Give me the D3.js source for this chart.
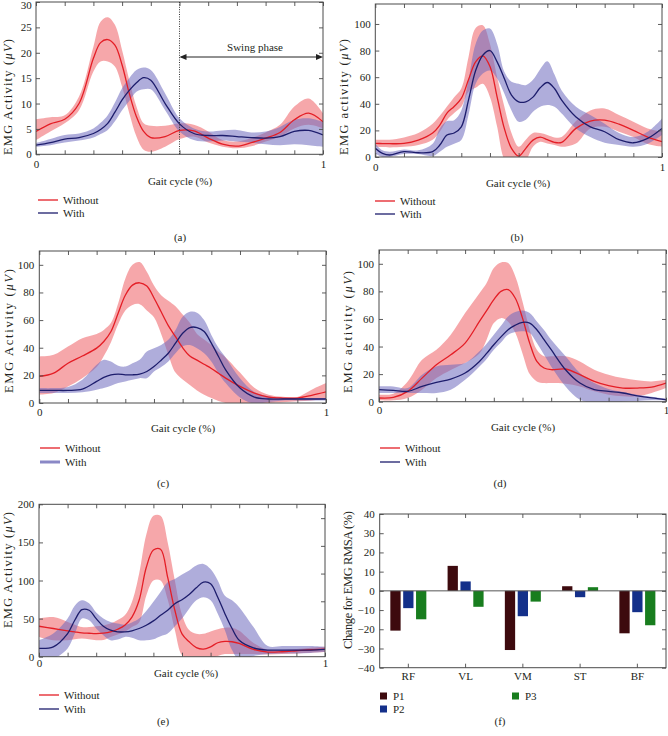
<!DOCTYPE html>
<html><head><meta charset="utf-8">
<script src="https://cdn.jsdelivr.net/npm/d3@7"></script>
<style>
body{margin:0;background:#fff;}
svg text{font-family:"Liberation Serif","Times New Roman",serif;font-size:11px;fill:#231f20;}
svg text.ylab{font-size:12.5px;}
</style></head><body>
<svg id="c" width="668" height="736"></svg>
<script>
// ---------------- DATA ----------------
const gaitTicks = [0,0.1,0.2,0.3,0.4,0.5,0.6,0.7,0.8,0.9,1];
const legendLabels = ["Without","With"];

// Panel (a)
const aGait = [0,0.05,0.1,0.15,0.2,0.225,0.25,0.275,0.3,0.325,0.35,0.375,0.4,0.45,0.5,0.55,0.6,0.65,0.7,0.75,0.8,0.85,0.9,0.95,1];
const aWithoutMean = [4.5,6.0,6.9,10,18.9,22,22.6,21.5,17.6,12,7.4,4.5,3.3,3.5,4.7,4.6,3.2,2.0,1.6,2.3,3.2,4.3,6.8,8.1,6.4];
const aWithoutHigh = [6.9,7.3,7.7,11.4,21.2,26.1,27,25.5,20.5,14.6,9.4,6.1,5.6,5.6,6.1,5.8,4.5,2.8,2.5,3.2,4.3,5.8,9.4,11,8.1];
const aWithoutLow  = [2.8,4.5,6.1,8.7,16.3,18.3,18.3,17.3,13.3,8.1,3.5,0.9,0.5,1.5,3.0,3.5,2.3,1.5,1.2,1.6,2.5,3.5,5.1,5.8,5.1];
const aWithMean = [1.8,2.3,3.0,3.3,4.1,4.9,6.1,8.3,10.7,12.6,14.1,15.1,14.6,10,6.0,4.1,3.7,3.7,3.5,3.3,3.2,3.5,4.5,4.7,3.8];
const aWithHigh = [2.2,3.0,3.8,4.1,5.1,6.2,7.7,10.2,13,15,16.6,17.1,16.6,12,7.1,5.1,4.5,4.7,4.8,4.3,4.5,5.4,6.8,7.1,6.4];
const aWithLow  = [1.5,1.8,2.3,2.7,3.3,4.0,4.8,6.5,8.7,10.5,12.3,12.8,12.8,8.7,4.5,2.8,2.5,2.7,2.5,2.3,2.0,1.8,2.0,1.8,1.5];
const aYTicks = [0,5,10,15,20,25,30];

// Panel (b)
const bGait = [0,0.025,0.05,0.1,0.15,0.2,0.225,0.25,0.275,0.3,0.325,0.35,0.375,0.4,0.425,0.45,0.475,0.5,0.525,0.55,0.575,0.6,0.625,0.65,0.7,0.75,0.8,0.85,0.9,0.95,1];
const bWithoutMean = [10.2,10.1,10,10.2,12.7,18,24,33,38,44,58,71.5,76,68,45,21.5,6.5,0.7,6.5,12.7,15,13,11,11,21.5,27,27.7,24.7,20,15,11.5];
const bWithoutHigh = [13,13,13,14.7,18,25,31,38,45,51.5,75,97,99,85,60,38,18,7.7,13,18,18,16.5,14.7,15,27,35,36.5,31.5,26.5,21.5,19];
const bWithoutLow  = [7.7,7.5,7.2,7.7,9,13,19,27.7,33,37.7,49,52,55,45,22.7,-2,-8,-8,-3,7.7,11.5,10.2,9,7.7,10.2,21.5,22.7,19,15,9.7,7.7];
const bWithMean = [6.5,2.7,1.5,4,3.2,4,9,16.5,18,22.7,42.7,65,76.5,80,71.5,59,46.5,41.5,41.5,45,52,56,51.5,42.7,30,22.7,19,13,10.7,14,21.5];
const bWithHigh = [10,5,4,5.7,5,10,21.5,27,27.7,35,58,85,95,96.5,85,64,56.5,55,54,58,66,72,62,50,37.7,31.5,25,18,15,19,29];
const bWithLow  = [2.7,0,0,2.2,2.2,0.7,4,7.7,10,12.7,31.5,55,62.7,65,59,47.7,35,26.5,28,34,37.7,39,37.7,32.7,21.5,15,10.7,9,7.7,10,16.5];
const bYTicks = [0,20,40,60,80,100];

// Panel (c)
const cGait = [0,0.05,0.1,0.15,0.2,0.225,0.25,0.275,0.3,0.325,0.35,0.375,0.4,0.425,0.45,0.475,0.5,0.525,0.55,0.575,0.6,0.625,0.65,0.7,0.75,0.8,0.85,0.9,0.95,1];
const cWithoutMean = [19.2,21.6,28.8,34,39.7,44.5,51.7,65,78,85.3,87,84.6,76,66,56,48,40,34,31,28,25,21.5,18,12,7.2,4.3,3.6,3.6,5.5,8];
const cWithoutHigh = [33.7,34.9,40.9,46.9,50,52.9,58,72,90,100,102,95,85,78,74,70,64,58,50,46,42,37,33,22,11,6,4.5,4.3,9.6,14.4];
const cWithoutLow  = [6,7.2,12,18,26,34,44,57,67,71,71.5,67,62,50,35,22,17,13,9,6,3.6,1.5,0,-2,-2,0,0.5,1.2,1.9,2.9];
const cWithMean = [9.1,9.1,9.1,10,15.6,18.5,20.4,20.9,20.4,20.4,20.9,22.8,26.4,31,36,43.3,50.5,54.6,54.6,51.7,43.3,33.7,24,10.8,4.3,2.9,2.9,2.9,2.9,2.9];
const cWithHigh = [10.8,10.8,11.5,16.8,27.6,31.3,30,27,26.4,28.8,31.3,37.3,39.7,42,45.7,52.9,62.5,66,65.4,60,49.3,40,33,18,8,4.8,3.6,3.6,3.6,3.6];
const cWithLow  = [7.2,7.2,7.2,7.7,9.6,10.8,12.5,14.4,15.6,16.8,18,18,22.8,26,30,36,41,42,39.7,36,30,21.6,14.4,4,-0.5,0.8,1.9,1.9,1.9,1.9];
const cYTicks = [0,20,40,60,80,100];

// Panel (d)
const dGait = [0,0.05,0.1,0.15,0.2,0.25,0.3,0.35,0.375,0.4,0.425,0.45,0.475,0.5,0.525,0.55,0.575,0.6,0.65,0.7,0.75,0.8,0.85,0.9,0.95,1];
const dWithoutMean = [2.7,3.1,7.5,17.1,26.8,34,42.5,58.2,66,74,80,81.2,75,60.6,42.5,29.2,24.4,23.2,23.7,19.6,14.7,11.6,9.9,9.9,10.6,13.5];
const dWithoutHigh = [5.1,5.8,14.7,30.4,37.7,48.6,64.3,78.7,86,96.9,101,100.5,90.8,72.7,52.2,37.7,32.9,32.9,32.9,29.2,23.2,19.6,17.1,15.5,14.7,15.9];
const dWithoutLow  = [1,1,2.7,8.7,17.1,23,28,35,45,57,60.6,58,50,35,20,14.7,13.5,13.5,13,11.1,7.5,5.1,3.9,3.9,6.3,9.9];
const dWithMean = [8.7,8.2,7.5,11.1,14,16.4,20.8,29.2,35,41.3,47,52.2,55.5,57.5,57,52.2,45,37.7,23.2,13.5,8.7,7.5,6.3,4.3,2.7,1.4];
const dWithHigh = [11.1,11.1,9.9,19.6,25.6,26.8,28,36.5,42,48.6,55,61.8,65,66.2,64.3,58.2,52,44.9,32.9,20.8,13.5,9.2,7,5,3.5,2];
const dWithLow  = [6.3,6.3,6.3,6.3,6.3,8.7,15.9,25.6,31,37.7,43,48.6,50.5,51,49.8,42.5,34,25.6,11.1,1.4,-1,-1,0,0.5,1,1];
const dYTicks = [0,20,40,60,80,100];

// Panel (e)
const eGait = [0,0.05,0.1,0.125,0.15,0.175,0.2,0.225,0.25,0.275,0.3,0.325,0.35,0.375,0.4,0.425,0.45,0.475,0.5,0.525,0.55,0.575,0.6,0.625,0.65,0.675,0.7,0.75,0.8,0.85,0.9,0.95,1];
const eWithoutMean = [40,37,34,32.6,31.3,30.8,30.4,31,32.6,36,41.3,52,74,117,140,141,104,61,30,19.6,12,10,13,18.3,20,19.6,17.4,9.6,6.1,6.5,7.8,9.1,10];
const eWithoutHigh = [50,52,45.6,42,39,39,40,41,43.5,48,54.3,71.7,108.7,160,185,185,150,100,55,35,30,30,33,36,38,38,34,18,9,8.7,10,11.7,13];
const eWithoutLow  = [26,21.7,21.7,23,23.9,23,21.7,22,26,29,32.6,39,45,80,100,100,75,35,2,-2,-3,-3,-2,1,3.5,3.5,3.5,3.5,3,3.5,4.3,5.2,6.1];
const eWithMean = [10.9,13,30.4,47.8,61.7,60.9,50,40,34.8,32.6,32.6,34,37,41.3,47,54.3,61,69.6,74.8,81.7,90.4,97.8,95.7,78,56.5,37,21.7,11.7,8.7,8.7,8.7,8.7,9.6];
const eWithHigh = [21.7,30.4,50,67,74,70,58,50,45.6,43.5,42,45,50,60,72,85,97.8,102,108,113,119.6,121.7,115,100,80,74,65,39,14,14,14,14,13];
const eWithLow  = [0,-2,10.9,30,50,47.8,37,28.3,21.7,22.6,26,25,21.7,21.7,23,27,30.4,40,50,63,74,78,74,56.5,34.8,8.7,-4,1,3.5,4.3,4.3,5,6.5];
const eYTicks = [0,50,100,150,200];
const eRightTicks = [20,40,60,80,100];

// Panel (f)
const muscles = ["RF","VL","VM","ST","BF"];
const seriesNames = ["P1","P2","P3"];
const p1Change = [-20.7, 13.0, -30.8, 2.4, -22.1];
const p2Change = [-9.0, 4.9, -13.2, -3.3, -11.1];
const p3Change = [-14.8, -8.3, -5.6, 1.9, -17.9];
const fYTicks = [-40,-30,-20,-10,0,10,20,30,40];

// ---------------- STYLE / LAYOUT ----------------
const RED = "#e41e26", BLUE = "#1d1d6c";
const RED_BAND = "rgba(238,95,100,0.55)", BLUE_BAND = "rgba(110,105,190,0.55)";
const BAR_COLORS = {P1:"#3d0a0e", P2:"#14308a", P3:"#187d1e"};
const AX = "#4a4a4a";

const svg = d3.select("#c");

function yLabel(g, cx, cy, len, pre, unit) {
  const t = g.append("text").attr("class","ylab").attr("transform", `translate(${cx},${cy}) rotate(-90)`)
    .attr("text-anchor","middle").attr("dy","0.35em")
    .attr("textLength", len).attr("lengthAdjust","spacing");
  t.append("tspan").text(pre);
  if (unit) {
    t.append("tspan").attr("font-style","italic").text(unit);
    t.append("tspan").text(")");
  }
}

function styleAxis(sel) {
  sel.attr("color", AX);
  sel.select(".domain").remove();
  sel.selectAll(".tick line").attr("stroke-width", 0.9);
}

function gaitPanel(L, D) {
  const g = svg.append("g");
  const x = d3.scaleLinear().domain([0,1]).range([L.left, L.right]);
  const y = d3.scaleLinear().domain([0, L.ymax]).range([L.bottom, L.top]);
  g.append("clipPath").attr("id","clip-"+L.id).append("rect")
    .attr("x",L.left).attr("y",L.top).attr("width",L.right-L.left).attr("height",L.bottom-L.top);
  const plot = g.append("g").attr("clip-path",`url(#clip-${L.id})`);
  const curve = d3.curveCatmullRom.alpha(0.5);
  const band = d3.area().x(d=>x(d.g)).y0(d=>y(d.lo)).y1(d=>y(d.hi)).curve(curve);
  const line = d3.line().x(d=>x(d.g)).y(d=>y(d.m)).curve(curve);
  const rows = (m,lo,hi)=>D.gait.map((gv,i)=>({g:gv, m:m[i], lo:lo[i], hi:hi[i]}));
  const wo = rows(D.woMean, D.woLow, D.woHigh);
  const wi = rows(D.wMean, D.wLow, D.wHigh);
  plot.append("path").datum(wo).attr("d",band).attr("fill",RED_BAND);
  plot.append("path").datum(wi).attr("d",band).attr("fill",BLUE_BAND);
  plot.append("path").datum(wo).attr("d",line).attr("fill","none").attr("stroke",RED).attr("stroke-width",1.3);
  plot.append("path").datum(wi).attr("d",line).attr("fill","none").attr("stroke",BLUE).attr("stroke-width",1.3);

  // axes
  g.append("g").attr("transform",`translate(0,${L.bottom})`)
    .call(d3.axisBottom(x).tickValues(gaitTicks).tickSizeInner(-4).tickSizeOuter(0).tickPadding(L.xPad)
      .tickFormat(d => d===0 ? "0" : (d===1 ? "1" : ""))).call(styleAxis);
  g.append("g").attr("transform",`translate(0,${L.top})`)
    .call(d3.axisTop(x).tickValues(gaitTicks).tickSizeInner(-4).tickSizeOuter(0).tickFormat("")).call(styleAxis);
  const yAx = g.append("g").attr("transform",`translate(${L.left},0)`)
    .call(d3.axisLeft(y).tickValues(D.yTicks).tickSizeInner(-4).tickSizeOuter(0).tickPadding(L.yPad)).call(styleAxis);
  if (L.topLabelShift) {
    yAx.selectAll(".tick").filter(d => d === L.ymax).select("text").attr("y", L.topLabelShift);
  }
  const yR = L.rightMax ? d3.scaleLinear().domain([0,L.rightMax]).range([L.bottom,L.top]) : y;
  g.append("g").attr("transform",`translate(${L.right},0)`)
    .call(d3.axisRight(yR).tickValues(D.rightTicks || D.yTicks).tickSizeInner(-4).tickSizeOuter(0).tickFormat("")).call(styleAxis);
  g.append("rect").attr("x",L.left).attr("y",L.top).attr("width",L.right-L.left).attr("height",L.bottom-L.top)
    .attr("fill","none").attr("stroke",AX).attr("stroke-width",1);

  yLabel(g, L.ylx, L.yly, L.yll, L.ylabel + " (", "μV");
  g.append("text").attr("x",L.xlabX).attr("y",L.xlabY).attr("dy","0.35em").attr("text-anchor","middle").text("Gait cycle (%)");

  // legend
  const leg = [[legendLabels[0], RED, 1.3, L.legY1], [legendLabels[1], L.withLegColor || BLUE, L.withLegWidth || 1.3, L.legY2]];
  leg.forEach(([lab,col,w,ly])=>{
    g.append("line").attr("x1",L.legX).attr("x2",L.legX+20).attr("y1",ly).attr("y2",ly).attr("stroke",col).attr("stroke-width",w);
    g.append("text").attr("x",L.legX+25).attr("y",ly).attr("dy","0.35em").text(lab);
  });
  g.append("text").attr("x",L.capX).attr("y",L.capY).attr("dy","0.35em").attr("text-anchor","middle").text(L.cap);
  return {g,x,y};
}

// (a)
const A = gaitPanel({id:"a", left:36, right:323, top:2, bottom:154.3, ymax:30, xPad:5.5, yPad:4.3, topLabelShift:3,
  ylabel:"EMG Activity", ylx:8, yly:97, yll:116, xlabX:180, xlabY:181, legX:38, legY1:200, legY2:213,
  cap:"(a)", capX:180, capY:237},
  {gait:aGait, woMean:aWithoutMean, woLow:aWithoutLow, woHigh:aWithoutHigh, wMean:aWithMean, wLow:aWithLow, wHigh:aWithHigh, yTicks:aYTicks});
// swing phase annotation
{
  const {g,x,y} = A;
  const x0 = x(0.5), x1 = x(1), ay = 57;
  g.append("line").attr("x1",x0).attr("x2",x0).attr("y1",y(30)).attr("y2",y(0))
    .attr("stroke","#333").attr("stroke-width",1).attr("stroke-dasharray","1,1.4");
  g.append("line").attr("x1",x0+2).attr("x2",x1-2).attr("y1",ay).attr("y2",ay).attr("stroke","#222").attr("stroke-width",1);
  g.append("path").attr("d",`M${x0},${ay}L${x0+7},${ay-3}L${x0+7},${ay+3}Z`).attr("fill","#222");
  g.append("path").attr("d",`M${x1},${ay}L${x1-7},${ay-3}L${x1-7},${ay+3}Z`).attr("fill","#222");
  g.append("text").attr("x",255).attr("y",47).attr("dy","0.35em").attr("text-anchor","middle").text("Swing phase");
}
// (b)
gaitPanel({id:"b", left:375.3, right:662, top:4, bottom:157, ymax:115, xPad:6, yPad:4.6,
  ylabel:"EMG activity", ylx:344, yly:97, yll:116, xlabX:518, xlabY:183, legX:375, legY1:201, legY2:214,
  cap:"(b)", capX:517, capY:237},
  {gait:bGait, woMean:bWithoutMean, woLow:bWithoutLow, woHigh:bWithoutHigh, wMean:bWithMean, wLow:bWithLow, wHigh:bWithHigh, yTicks:bYTicks});
// (c)
gaitPanel({id:"c", left:39.3, right:326, top:251, bottom:403, ymax:110, xPad:5.5, yPad:5,
  ylabel:"EMG Activity", ylx:9, yly:331, yll:124, xlabX:183, xlabY:428, legX:40, legY1:448, legY2:462,
  withLegColor:"#8a88c6", withLegWidth:3, cap:"(c)", capX:163, capY:483},
  {gait:cGait, woMean:cWithoutMean, woLow:cWithoutLow, woHigh:cWithoutHigh, wMean:cWithMean, wLow:cWithLow, wHigh:cWithHigh, yTicks:cYTicks});
// (d)
gaitPanel({id:"d", left:379, right:666, top:250, bottom:401.7, ymax:110, xPad:5, yPad:5,
  ylabel:"EMG activity", ylx:348, yly:332, yll:122, xlabX:523, xlabY:427, legX:380, legY1:448, legY2:462,
  cap:"(d)", capX:500, capY:483},
  {gait:dGait, woMean:dWithoutMean, woLow:dWithoutLow, woHigh:dWithoutHigh, wMean:dWithMean, wLow:dWithLow, wHigh:dWithHigh, yTicks:dYTicks});
// (e)
gaitPanel({id:"e", left:39, right:325, top:504.3, bottom:656.7, ymax:200, rightMax:110, xPad:3, yPad:4.7,
  ylabel:"EMG Activity", ylx:8, yly:570, yll:116, xlabX:186, xlabY:673, legX:39, legY1:695, legY2:709,
  cap:"(e)", capX:163, capY:721},
  {gait:eGait, woMean:eWithoutMean, woLow:eWithoutLow, woHigh:eWithoutHigh, wMean:eWithMean, wLow:eWithLow, wHigh:eWithHigh, yTicks:eYTicks, rightTicks:eRightTicks});

// (f) bar chart
{
  const F = {left:379.7, right:666, top:514, bottom:667.7};
  const g = svg.append("g");
  const x = d3.scaleBand().domain(muscles).range([F.left, F.right]).padding(0);
  const y = d3.scaleLinear().domain([-40,40]).range([F.bottom, F.top]);
  const inner = d3.scaleBand().domain(seriesNames).range([-18,18]).paddingInner(0.2);
  const vals = {P1:p1Change, P2:p2Change, P3:p3Change};
  const data = muscles.flatMap((m,i)=>seriesNames.map(s=>({m, s, v:vals[s][i]})));
  g.selectAll("rect.bar").data(data).join("rect").attr("class","bar")
    .attr("x", d=>x(d.m)+x.bandwidth()/2+inner(d.s)).attr("width", inner.bandwidth())
    .attr("y", d=>y(Math.max(0,d.v))).attr("height", d=>Math.abs(y(d.v)-y(0)))
    .attr("fill", d=>BAR_COLORS[d.s]);
  g.append("line").attr("x1",F.left).attr("x2",F.right).attr("y1",y(0)).attr("y2",y(0)).attr("stroke","#555").attr("stroke-width",1);
  g.append("g").attr("transform",`translate(0,${F.bottom})`)
    .call(d3.axisBottom(x).tickSizeInner(-4).tickSizeOuter(0).tickPadding(4.5)).call(styleAxis);
  g.append("g").attr("transform",`translate(0,${F.top})`)
    .call(d3.axisTop(x).tickSizeInner(-4).tickSizeOuter(0).tickFormat("")).call(styleAxis);
  g.append("g").attr("transform",`translate(${F.left},0)`)
    .call(d3.axisLeft(y).tickValues(fYTicks).tickSizeInner(-4).tickSizeOuter(0).tickPadding(5)).call(styleAxis);
  g.append("g").attr("transform",`translate(${F.right},0)`)
    .call(d3.axisRight(y).tickValues(fYTicks).tickSizeInner(-4).tickSizeOuter(0).tickFormat("")).call(styleAxis);
  g.append("rect").attr("x",F.left).attr("y",F.top).attr("width",F.right-F.left).attr("height",F.bottom-F.top)
    .attr("fill","none").attr("stroke",AX).attr("stroke-width",1);
  yLabel(g, 348, 580, 138, "Change for EMG RMSA (%)", null);
  const legPos = {P1:[380,696], P2:[380,709], P3:[512,696]};
  seriesNames.forEach(s=>{
    const [lx,ly] = legPos[s];
    g.append("rect").attr("x",lx).attr("y",ly-3.5).attr("width",7).attr("height",7).attr("fill",BAR_COLORS[s]);
    g.append("text").attr("x",lx+13).attr("y",ly).attr("dy","0.35em").text(s);
  });
  g.append("text").attr("x",500).attr("y",721).attr("dy","0.35em").attr("text-anchor","middle").text("(f)");
}
</script>
</body></html>
